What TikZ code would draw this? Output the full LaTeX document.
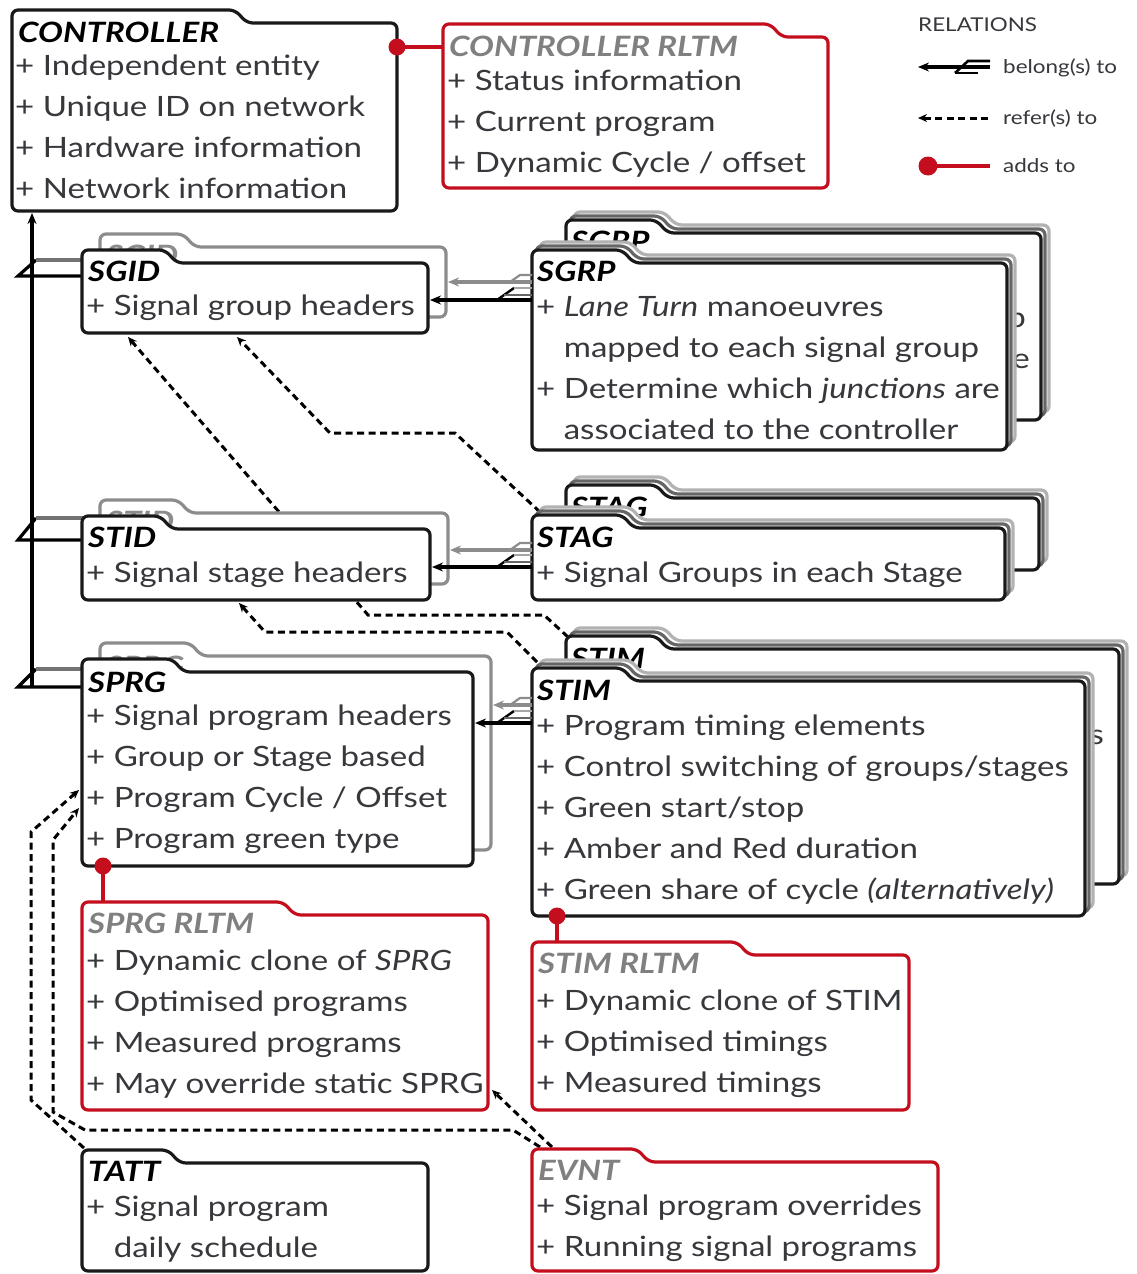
\documentclass[tikz,border=0pt]{standalone}
\usepackage{fontspec}
\setmainfont{Lato}[FakeStretch=1.18]
\usetikzlibrary{arrows.meta}
\definecolor{myred}{RGB}{196,14,30}
\definecolor{txt}{RGB}{55,55,60}
\definecolor{ttlgray}{RGB}{128,128,128}
\newcommand\folderbox[6]{\draw[#1] (#2,#5) -- (#2,{#3-13}) -- (#6,{#3-13}) -- ({#6+12},#3) -- (#4,#3) -- (#4,#5) -- cycle;}
\newcommand\blines[4]{\foreach \t [count=\i from 0] in {#4} {\node[body] (#1-\i) at (#2,{#3+41*\i}) {\t};}}
\newcommand\shadowed[5]{%
  \begin{scope}[shift={(8,-8)}]\folderbox{shadeB}{#1}{#2}{#3}{#4}{#5}\end{scope}
  \begin{scope}[shift={(4,-4)}]\folderbox{shadeA}{#1}{#2}{#3}{#4}{#5}\end{scope}
  \folderbox{blackbox}{#1}{#2}{#3}{#4}{#5}}
\newcommand\fork[2]{%
  \draw[line width=2.4pt] ({#1-35},#2) -- ({#1-18},{#2-12});
  \draw[line width=2.2pt, black!60] ({#1-28},{#2-5}) -- (#1,{#2-5});
  \draw[line width=2.2pt, black!35] ({#1-18},{#2-12}) -- (#1,{#2-12});}
\newcommand\smallfork[2]{%
  \draw[line width=2.2pt, black!45] ({#1-22},#2) -- ({#1-12},{#2-7}) -- (#1,{#2-7});}
\begin{document}
\begin{tikzpicture}[x=1pt,y=-1pt,
  boxline/.style={line width=3.2pt, rounded corners=6pt, fill=white},
  blackbox/.style={boxline, draw=black!90},
  redbox/.style={boxline, draw=myred},
  graybox/.style={boxline, draw=black!45},
  shadeA/.style={boxline, draw=black!60},
  shadeB/.style={boxline, draw=black!30},
  ttl/.style={anchor=base west, inner sep=0pt, font=\fontsize{28}{34}\selectfont\bfseries\itshape},
  body/.style={anchor=base west, inner sep=0pt, text=txt, font=\fontsize{28}{41}\selectfont},
  leg/.style={anchor=base west, inner sep=0pt, text=txt, font=\fontsize{19}{23}\selectfont},
  belong/.style={line width=3.2pt, -{Stealth[length=11pt,width=9pt]}},
  refer/.style={line width=3pt, dash pattern=on 7pt off 4.5pt, -{Stealth[length=9pt,width=8pt]}},
  adds/.style={line width=3.4pt, draw=myred},
  junc/.style={line width=3.2pt}]
\useasboundingbox (0,0) rectangle (1136,1274);
\fill[white] (0,0) rectangle (1136,1274);

% ---------- refer(s) to (dashed) ----------
\coordinate (a1) at (540,512); \coordinate (a2) at (455,433); \coordinate (a3) at (330,433); \coordinate (sgid-s2) at (237,337);
\draw[refer] (a1) -- (a2) -- (a3) -- (sgid-s2);
\coordinate (b1) at (568,637); \coordinate (b2) at (544,615); \coordinate (b3) at (368,615); \coordinate (sgid-s1) at (128,337);
\draw[refer] (b1) -- (b2) -- (b3) -- (sgid-s1);
\coordinate (c1) at (537,662); \coordinate (c2) at (507,632); \coordinate (c3) at (265,632); \coordinate (stid-s) at (239,603);
\draw[refer] (c1) -- (c2) -- (c3) -- (stid-s);
\coordinate (d1) at (84,1148); \coordinate (d2) at (31,1100); \coordinate (d3) at (31,832); \coordinate (sprg-w1) at (79,790);
\draw[refer] (d1) -- (d2) -- (d3) -- (sprg-w1);
\coordinate (e1) at (540,1147); \coordinate (e2) at (513,1130); \coordinate (e3) at (85,1130); \coordinate (e4) at (53,1112); \coordinate (e5) at (53,840); \coordinate (sprg-w2) at (79,808);
\draw[refer] (e1) -- (e2) -- (e3) -- (e4) -- (e5) -- (sprg-w2);
\coordinate (f1) at (552,1147); \coordinate (sprgr-se) at (492,1090);
\draw[refer] (f1) -- (sprgr-se);

% ---------- belong(s) to : left spine ----------
\coordinate (ctrl-s) at (32,213); \coordinate (spine-b) at (32,687);
\draw[belong] (spine-b) -- (ctrl-s);
\coordinate (sgid-w) at (82,276); \coordinate (sgidb-w) at (100,260);
\draw[junc] (sgid-w) -- (18,276) -- (36,260);
\draw[junc, black!55] (36,260) -- (sgidb-w);
\coordinate (stid-w) at (82,540); \coordinate (stidb-w) at (100,518);
\draw[junc] (stid-w) -- (18,540) -- (36,518);
\draw[junc, black!55] (36,518) -- (stidb-w);
\coordinate (sprg-w) at (82,687); \coordinate (sprgb-w) at (100,669);
\draw[junc] (sprg-w) -- (18,687) -- (36,669);
\draw[junc, black!55] (36,669) -- (sprgb-w);

% ---------- CONTROLLER ----------
\folderbox{blackbox}{12}{23}{397}{211}{235}
\node[ttl] (ctrl-t) at (18,42) {CONTROLLER};
\blines{ctrl}{15}{75}{+ Independent entity,+ Unique ID on network,+ Hardware information,+ Network information}

% ---------- CONTROLLER RLTM ----------
\folderbox{redbox}{443}{37}{828}{188}{770}
\node[ttl, text=ttlgray] (crltm-t) at (449,56) {CONTROLLER RLTM};
\blines{crltm}{447}{90}{+ Status information,+ Current program,+ Dynamic Cycle / offset}

% ---------- SGID ----------
\begin{scope}[shift={(18,-16)}]
\folderbox{graybox}{82}{263}{428}{333}{165}
\node[ttl, text=black!45] (sgidb-t) at (88,281) {SGID};
\end{scope}
\folderbox{blackbox}{82}{263}{428}{333}{165}
\node[ttl] (sgid-t) at (88,281) {SGID};
\blines{sgid}{86}{315}{+ Signal group headers}

% ---------- SGRP ----------
\begin{scope}[shift={(34,-30)}]
\shadowed{532}{263}{1007}{450}{622}
\node[ttl] (sgrpb-t) at (537,281) {SGRP};
\node[body, anchor=base east] (sgrpb-1) at (992,357) {group};
\node[body, anchor=base east] (sgrpb-2) at (996,398) {are};
\end{scope}
\shadowed{532}{263}{1007}{450}{622}
\node[ttl] (sgrp-t) at (537,281) {SGRP};
\blines{sgrp}{536}{316}{+ \textit{Lane Turn} manoeuvres,\phantom{+\ }mapped to each signal group,+ Determine which \textit{junctions} are,\phantom{+\ }associated to the controller}

% ---------- STID ----------
\begin{scope}[shift={(18,-16)}]
\folderbox{graybox}{82}{529}{430}{600}{160}
\node[ttl, text=black!45] (stidb-t) at (88,547) {STID};
\end{scope}
\folderbox{blackbox}{82}{529}{430}{600}{160}
\node[ttl] (stid-t) at (88,547) {STID};
\blines{stid}{86}{582}{+ Signal stage headers}

% ---------- STAG ----------
\begin{scope}[shift={(34,-30)}]
\shadowed{532}{528}{1005}{600}{622}
\node[ttl] (stagb-t) at (537,547) {STAG};
\end{scope}
\shadowed{532}{528}{1005}{600}{622}
\node[ttl] (stag-t) at (537,547) {STAG};
\blines{stag}{536}{582}{+ Signal Groups in each Stage}

% ---------- SPRG ----------
\begin{scope}[shift={(18,-16)}]
\folderbox{graybox}{82}{672}{473}{866}{172}
\node[ttl, text=black!45] (sprgb-t) at (88,692) {SPRG};
\end{scope}
\folderbox{blackbox}{82}{672}{473}{866}{172}
\node[ttl] (sprg-t) at (88,692) {SPRG};
\blines{sprg}{86}{725}{+ Signal program headers,+ Group or Stage based,+ Program Cycle / Offset,+ Program green type}

% ---------- STIM ----------
\begin{scope}[shift={(34,-32)}]
\shadowed{532}{681}{1085}{916}{622}
\node[ttl] (stimb-t) at (537,700) {STIM};
\node[body, anchor=base east] (stimb-1) at (1070,776) {stages};
\end{scope}
\shadowed{532}{681}{1085}{916}{622}
\node[ttl] (stim-t) at (537,700) {STIM};
\blines{stim}{536}{735}{+ Program timing elements,+ Control switching of groups/stages,+ Green start/stop,+ Amber and Red duration,+ Green share of cycle \textit{(alternatively)}}

% ---------- SPRG RLTM ----------
\folderbox{redbox}{82}{915}{488}{1110}{283}
\node[ttl, text=ttlgray] (sprgr-t) at (88,933) {SPRG RLTM};
\blines{sprgr}{86}{970}{+ Dynamic clone of \textit{SPRG},+ Optimised programs,+ Measured programs,+ May override static SPRG}

% ---------- STIM RLTM ----------
\folderbox{redbox}{532}{955}{909}{1110}{737}
\node[ttl, text=ttlgray] (stimr-t) at (538,973) {STIM RLTM};
\blines{stimr}{536}{1010}{+ Dynamic clone of STIM,+ Optimised timings,+ Measured timings}

% ---------- TATT ----------
\folderbox{blackbox}{82}{1163}{428}{1271}{168}
\node[ttl] (tatt-t) at (88,1181) {TATT};
\blines{tatt}{86}{1216}{+ Signal program,\phantom{+\ }daily schedule}

% ---------- EVNT ----------
\folderbox{redbox}{532}{1162}{938}{1271}{637}
\node[ttl, text=ttlgray] (evnt-t) at (538,1180) {EVNT};
\blines{evnt}{536}{1215}{+ Signal program overrides,+ Running signal programs}

% ---------- belong(s) to : right side ----------
\coordinate (sgrp-w) at (532,300); \coordinate (sgid-e) at (430,300);
\coordinate (sgrpb-w) at (532,282); \coordinate (sgidb-e) at (448,282);
\draw[belong, black!45] (sgrpb-w) -- (sgidb-e); \smallfork{532}{282}
\draw[belong] (sgrp-w) -- (sgid-e); \fork{532}{300}
\coordinate (stag-w) at (532,567); \coordinate (stid-e) at (432,567);
\coordinate (stagb-w) at (532,550); \coordinate (stidb-e) at (450,550);
\draw[belong, black!45] (stagb-w) -- (stidb-e); \smallfork{532}{550}
\draw[belong] (stag-w) -- (stid-e); \fork{532}{567}
\coordinate (stim-w) at (532,723); \coordinate (sprg-e) at (475,723);
\coordinate (stimb-w) at (532,705); \coordinate (sprgb-e) at (493,705);
\draw[belong, black!45] (stimb-w) -- (sprgb-e); \smallfork{532}{705}
\draw[belong] (stim-w) -- (sprg-e); \fork{532}{723}

% ---------- adds to (red) ----------
\coordinate (ctrl-e) at (397,47); \coordinate (crltm-w) at (443,47);
\draw[adds] (crltm-w) -- (ctrl-e); \fill[myred] (ctrl-e) circle (8.5pt);
\coordinate (sprg-s) at (103,866); \coordinate (sprgr-n) at (103,902);
\draw[adds] (sprgr-n) -- (sprg-s); \fill[myred] (sprg-s) circle (8.5pt);
\coordinate (stim-s) at (557,916); \coordinate (stimr-n) at (557,942);
\draw[adds] (stimr-n) -- (stim-s); \fill[myred] (stim-s) circle (8.5pt);

% ---------- legend ----------
\node[leg] (leg-t) at (918,31) {RELATIONS};
\coordinate (lg1a) at (990,67); \coordinate (lg1b) at (918,67);
\draw[belong, line width=3.4pt] (lg1a) -- (lg1b);
\draw[line width=2.6pt] (955,73) -- (968,61) -- (990,61);
\draw[line width=2.6pt] (955,73) -- (978,73);
\node[leg] (leg-1) at (1003,73) {belong(s) to};
\coordinate (lg2a) at (988,118); \coordinate (lg2b) at (918,118);
\draw[refer] (lg2a) -- (lg2b);
\node[leg] (leg-2) at (1003,124) {refer(s) to};
\coordinate (lg3a) at (990,166); \coordinate (lg3b) at (928,166);
\draw[adds, line width=4.5pt] (lg3a) -- (lg3b); \fill[myred] (lg3b) circle (9.5pt);
\node[leg] (leg-3) at (1003,172) {adds to};
\end{tikzpicture}
\end{document}
